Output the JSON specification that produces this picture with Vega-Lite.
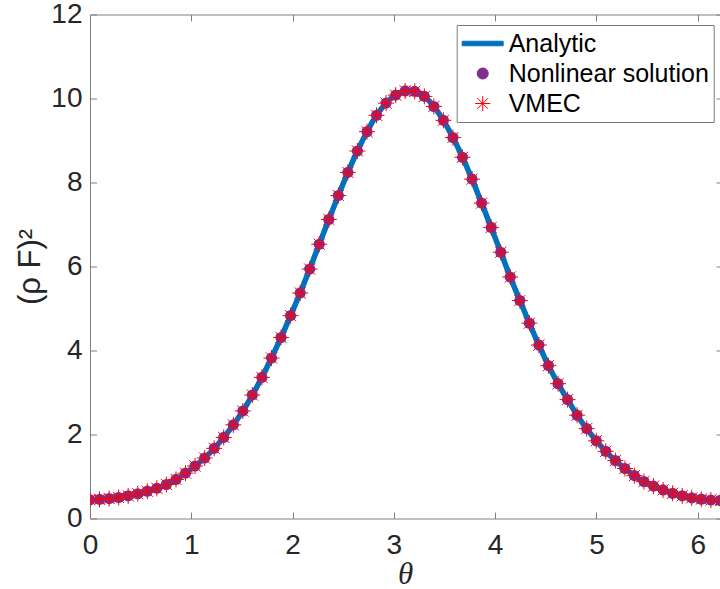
{
  "$schema": "https://vega.github.io/schema/vega-lite/v6.json",
  "width": 630,
  "height": 504,
  "autosize": {"type": "none"},
  "padding": {"left": 90, "top": 14.5, "right": 0, "bottom": 70.5},
  "background": "white",
  "config": {"view": {"stroke": null}, "font": "Liberation Sans"},
  "data": {"values": [
    {"theta": 0.000, "v": 0.445}, {"theta": 0.094, "v": 0.455}, {"theta": 0.189, "v": 0.475}, {"theta": 0.283, "v": 0.50},
    {"theta": 0.377, "v": 0.54}, {"theta": 0.472, "v": 0.59}, {"theta": 0.566, "v": 0.65}, {"theta": 0.660, "v": 0.72},
    {"theta": 0.754, "v": 0.81}, {"theta": 0.849, "v": 0.93}, {"theta": 0.943, "v": 1.08}, {"theta": 1.037, "v": 1.25},
    {"theta": 1.132, "v": 1.44}, {"theta": 1.226, "v": 1.67}, {"theta": 1.320, "v": 1.93}, {"theta": 1.415, "v": 2.23},
    {"theta": 1.509, "v": 2.56}, {"theta": 1.603, "v": 2.94}, {"theta": 1.697, "v": 3.36}, {"theta": 1.792, "v": 3.82},
    {"theta": 1.886, "v": 4.31}, {"theta": 1.980, "v": 4.83}, {"theta": 2.075, "v": 5.37}, {"theta": 2.169, "v": 5.94},
    {"theta": 2.263, "v": 6.53}, {"theta": 2.358, "v": 7.12}, {"theta": 2.452, "v": 7.69}, {"theta": 2.546, "v": 8.24},
    {"theta": 2.640, "v": 8.75}, {"theta": 2.735, "v": 9.21}, {"theta": 2.829, "v": 9.60}, {"theta": 2.923, "v": 9.89},
    {"theta": 3.018, "v": 10.08}, {"theta": 3.112, "v": 10.18}, {"theta": 3.206, "v": 10.17}, {"theta": 3.301, "v": 10.05},
    {"theta": 3.395, "v": 9.81}, {"theta": 3.489, "v": 9.48}, {"theta": 3.583, "v": 9.07}, {"theta": 3.678, "v": 8.60},
    {"theta": 3.772, "v": 8.08}, {"theta": 3.866, "v": 7.51}, {"theta": 3.961, "v": 6.93}, {"theta": 4.055, "v": 6.34},
    {"theta": 4.149, "v": 5.75}, {"theta": 4.244, "v": 5.19}, {"theta": 4.338, "v": 4.65}, {"theta": 4.432, "v": 4.13},
    {"theta": 4.526, "v": 3.64}, {"theta": 4.621, "v": 3.21}, {"theta": 4.715, "v": 2.83}, {"theta": 4.809, "v": 2.46},
    {"theta": 4.904, "v": 2.14}, {"theta": 4.998, "v": 1.85}, {"theta": 5.092, "v": 1.60}, {"theta": 5.187, "v": 1.38},
    {"theta": 5.281, "v": 1.19}, {"theta": 5.375, "v": 1.02}, {"theta": 5.469, "v": 0.88}, {"theta": 5.564, "v": 0.77},
    {"theta": 5.658, "v": 0.68}, {"theta": 5.752, "v": 0.60}, {"theta": 5.847, "v": 0.54}, {"theta": 5.941, "v": 0.49},
    {"theta": 6.035, "v": 0.46}, {"theta": 6.130, "v": 0.44}, {"theta": 6.224, "v": 0.43}
  ]},
  "layer": [
    {
      "mark": {"type": "line", "strokeWidth": 5.5, "interpolate": "monotone", "clip": true},
      "encoding": {
        "x": {"field": "theta", "type": "quantitative",
          "scale": {"domain": [0, 6.22], "nice": false, "zero": false},
          "axis": {"orient": "bottom", "values": [0, 1, 2, 3, 4, 5, 6], "tickSize": -6.5, "labelPadding": 19,
            "labelFontSize": 28, "labelColor": "#262626", "labelFont": "Liberation Sans", "labelFlush": false,
            "domainColor": "#808080", "tickColor": "#808080", "grid": false,
            "title": "θ", "titleFont": "Liberation Serif", "titleFontSize": 31, "titleFontStyle": "italic",
            "titleFontWeight": "normal", "titleColor": "#262626", "titlePadding": 0}},
        "y": {"field": "v", "type": "quantitative",
          "scale": {"domain": [0, 12], "nice": false},
          "axis": {"orient": "left", "values": [0, 2, 4, 6, 8, 10, 12], "tickSize": -6.5, "labelPadding": 14.5,
            "labelFontSize": 28, "labelColor": "#262626", "labelFont": "Liberation Sans",
            "domainColor": "#808080", "tickColor": "#808080", "grid": false,
            "title": "(ρ F)²", "titleFont": "Liberation Sans", "titleFontSize": 31,
            "titleFontWeight": "normal", "titleColor": "#262626", "titlePadding": 4}},
        "color": {"datum": "Analytic", "type": "nominal",
          "scale": {"domain": ["Analytic", "Nonlinear solution", "VMEC"], "range": ["#0072BD", "#7E2F8E", "#FF0000"]},
          "legend": {"title": null, "orient": "none", "legendX": 366.7, "legendY": 10.5,
            "padding": 4, "fillColor": "white", "strokeColor": "#7a7a7a",
            "labelFontSize": 25, "labelFont": "Liberation Sans", "labelColor": "black", "labelLimit": 400,
            "symbolSize": 1681, "symbolStrokeWidth": 1, "symbolOffset": 1, "labelOffset": 5,
            "clipHeight": 29, "rowPadding": 1,
            "encode": {"symbols": {"update": {
              "shape": {"signal": "datum.value === 'Analytic' ? 'M-1,-0.11H1V0.11H-1Z' : datum.value === 'Nonlinear solution' ? 'M-0.27,0A0.27,0.27 0 1,0 0.27,0A0.27,0.27 0 1,0 -0.27,0Z' : 'M-0.37,0H0.37M0,-0.37V0.37M-0.26,-0.26L0.26,0.26M-0.26,0.26L0.26,-0.26'"},
              "fill": {"signal": "datum.value === 'Analytic' ? '#0072BD' : datum.value === 'Nonlinear solution' ? '#7E2F8E' : 'transparent'"},
              "stroke": {"signal": "datum.value === 'VMEC' ? '#FF0000' : 'transparent'"},
              "opacity": {"value": 1}
            }}}
          }}
      }
    },
    {
      "mark": {"type": "point", "shape": "circle", "filled": true, "size": 125, "opacity": 1, "clip": true},
      "encoding": {
        "x": {"field": "theta", "type": "quantitative",
          "axis": {"orient": "top", "values": [0, 1, 2, 3, 4, 5, 6], "labels": false, "tickSize": -6.5,
            "domainColor": "#808080", "tickColor": "#808080", "grid": false, "title": null}},
        "y": {"field": "v", "type": "quantitative",
          "axis": {"orient": "right", "values": [0, 2, 4, 6, 8, 10, 12], "labels": false, "tickSize": -4,
            "domain": false, "tickColor": "#808080", "grid": false, "title": null}},
        "color": {"datum": "Nonlinear solution", "type": "nominal"}
      }
    },
    {
      "mark": {"type": "point", "shape": "M-1,0H1M0,-1V1M-0.7,-0.7L0.7,0.7M-0.7,0.7L0.7,-0.7", "filled": false, "size": 256, "strokeWidth": 1, "opacity": 1, "clip": true},
      "encoding": {
        "x": {"field": "theta", "type": "quantitative", "axis": null},
        "y": {"field": "v", "type": "quantitative", "axis": null},
        "color": {"datum": "VMEC", "type": "nominal"}
      }
    }
  ],
  "resolve": {"axis": {"x": "independent", "y": "independent"}}
}
